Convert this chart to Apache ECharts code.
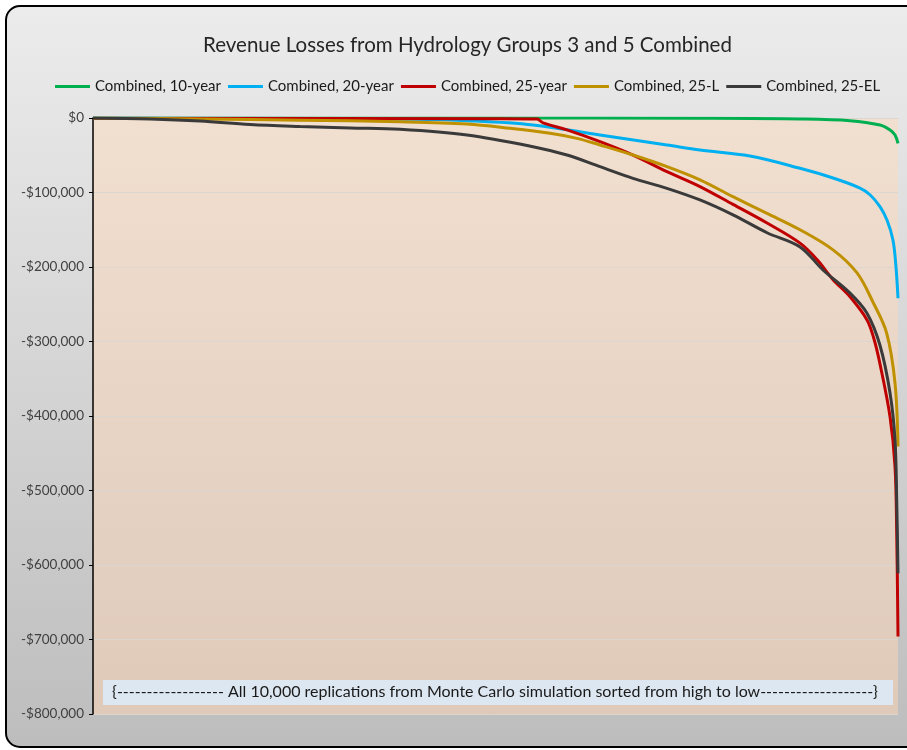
<!DOCTYPE html>
<html>
<head>
<meta charset="utf-8">
<script src="https://cdn.jsdelivr.net/npm/echarts@6/dist/echarts.min.js"></script>
<style>
  html, body { margin: 0; padding: 0; background: #fff; }
  #chart { width: 907px; height: 750px; }
</style>
</head>
<body>
<div id="chart"></div>
<script>
// replication index (0..10000, sorted high to low) and loss in $
var seriesNames = ['Combined, 10-year', 'Combined, 20-year', 'Combined, 25-year', 'Combined, 25-L', 'Combined, 25-EL'];
var seriesColors = ['#00b050', '#00b0f0', '#c00000', '#bf9000', '#3a3a3a'];

var tenYear = [[0,0],[5000,-100],[7500,-400],[8783,-1300],[9404,-3600],[9776,-9400],
  [9901,-16100],[9963,-22800],[10000,-34000]];

var twentyYear = [[0,0],[2500,-600],[4000,-1800],[4646,-3600],[5466,-9400],[6298,-22800],
  [7130,-36200],[7540,-43000],[8161,-51000],[8783,-67500],[9193,-80500],[9528,-94000],
  [9652,-103000],[9776,-119000],[9863,-137000],[9938,-164000],[9975,-200000],[10000,-242000]];

var twentyFiveYear = [[0,-500],[5000,-1000],[5516,-1500],[5590,-6500],[5888,-16000],[6298,-31800],
  [6708,-49700],[7130,-72000],[7540,-92000],[7950,-116000],[8373,-141000],[8783,-168000],
  [8994,-190000],[9193,-217000],[9404,-240000],[9615,-271000],[9700,-296000],[9776,-330000],
  [9901,-401000],[9963,-468000],[9984,-557000],[10000,-696000]];

var twentyFiveL = [[0,0],[1329,-1300],[2571,-3000],[3814,-5000],[4646,-8000],[5180,-13800],
  [5677,-20500],[6012,-27300],[6298,-36200],[6708,-49700],[7130,-65300],[7540,-83000],
  [7950,-105600],[8373,-128000],[8783,-150000],[9193,-177000],[9491,-208000],[9693,-248000],
  [9860,-289000],[9963,-356000],[10000,-441000]];

var twentyFiveEL = [[0,0],[708,-1300],[1329,-4000],[1950,-8700],[2571,-11400],[3193,-13400],
  [3814,-15200],[4646,-22800],[5466,-38500],[5888,-49700],[6298,-65300],[6708,-81000],
  [7130,-94400],[7540,-110000],[7950,-130000],[8373,-154000],[8783,-173000],[9068,-204000],
  [9404,-235000],[9615,-262000],[9776,-305000],[9901,-369000],[9963,-432000],[9984,-513000],
  [10000,-611000]];

var allData = [tenYear, twentyYear, twentyFiveYear, twentyFiveL, twentyFiveEL];
var noteText = '{------------------ All 10,000 replications from Monte Carlo simulation sorted from high to low-------------------}';

var font = 'Lato, "Open Sans", sans-serif';
var chart = echarts.init(document.getElementById('chart'));

var series = [];
for (var i = 0; i < seriesNames.length; i++) {
  series.push({
    name: seriesNames[i],
    type: 'line',
    data: allData[i],
    showSymbol: false,
    smooth: 0.35,
    lineStyle: { color: seriesColors[i], width: 3 },
    itemStyle: { color: seriesColors[i] },
    z: 2 + i
  });
}

chart.setOption({
  animation: false,
  backgroundColor: 'transparent',
  graphic: [
    {
      type: 'rect', z: -10, silent: true,
      shape: { x: 6, y: 6, width: 930, height: 741, r: 14 },
      style: {
        fill: new echarts.graphic.LinearGradient(0, 0, 0, 1, [
          { offset: 0, color: '#ececec' },
          { offset: 1, color: '#bdbdbd' }
        ]),
        stroke: '#000', lineWidth: 2
      }
    },
    {
      type: 'rect', z: 10, silent: true,
      shape: { x: 103, y: 680, width: 790, height: 25 },
      style: { fill: '#dde7f1' }
    },
    {
      type: 'text', z: 11, silent: true,
      x: 495, y: 692,
      style: {
        text: noteText, font: '16px ' + font, fill: '#1a1a1a',
        align: 'center', verticalAlign: 'middle'
      }
    }
  ],
  title: {
    text: 'Revenue Losses from Hydrology Groups 3 and 5 Combined',
    left: 198, top: 30,
    textStyle: { fontFamily: font, fontSize: 20.5, fontWeight: 'normal', color: '#262626' }
  },
  legend: {
    data: seriesNames,
    top: 74, left: 50,
    icon: 'rect', itemWidth: 35, itemHeight: 3, itemGap: 7,
    textStyle: { fontFamily: font, fontSize: 15, color: '#1a1a1a' }
  },
  grid: {
    left: 93, right: 9, top: 118, bottom: 36,
    show: true, borderWidth: 0,
    backgroundColor: new echarts.graphic.LinearGradient(0, 0, 0, 1, [
      { offset: 0, color: '#f1dfd0' },
      { offset: 1, color: '#dfcaba' }
    ])
  },
  xAxis: {
    type: 'value', min: 0, max: 10000, show: false
  },
  yAxis: {
    type: 'value', min: -800000, max: 0, interval: 100000,
    axisLine: { show: true, lineStyle: { color: '#000', width: 1.5 } },
    axisTick: { show: true, length: 4, lineStyle: { color: '#000' } },
    axisLabel: {
      margin: 9, fontFamily: font, fontSize: 13.5, color: '#404040',
      formatter: function (v) {
        if (v === 0) return '$0';
        return '-$' + Math.abs(v).toLocaleString('en-US');
      }
    },
    splitLine: { show: true, lineStyle: { color: '#dcd6d1', width: 1 } }
  },
  series: series
});
</script>
</body>
</html>
